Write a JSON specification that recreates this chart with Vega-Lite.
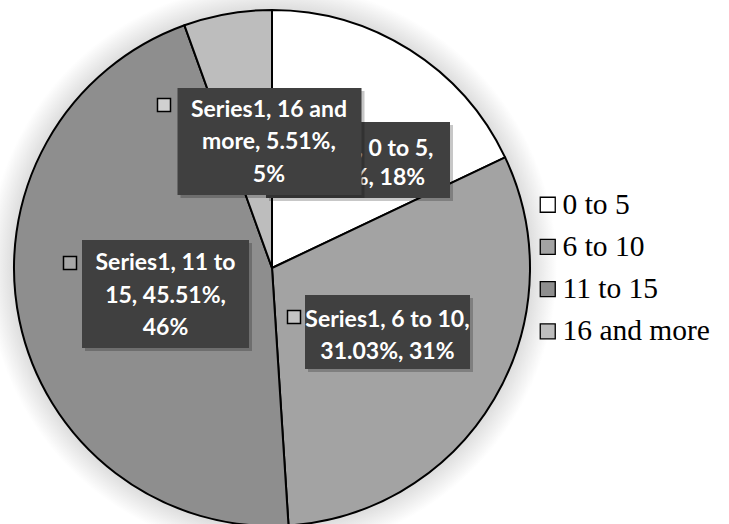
{
  "$schema": "https://vega.github.io/schema/vega-lite/v6.json",
  "width": 544,
  "height": 524,
  "autosize": "none",
  "padding": {"left": 0, "top": 0, "right": 185, "bottom": 0},
  "background": "#ffffff",
  "config": {"view": {"stroke": null}},
  "data": {"values": [
    {"idx": 1, "cat": "0 to 5", "value": 17.95},
    {"idx": 2, "cat": "6 to 10", "value": 31.03},
    {"idx": 3, "cat": "11 to 15", "value": 45.51},
    {"idx": 4, "cat": "16 and more", "value": 5.51}
  ]},
  "layer": [
    {
      "data": {"values": [{"k": 1}]},
      "mark": {"type": "arc", "theta": 0, "theta2": 6.2832, "radius": 285, "yOffset": 6,
        "fill": {"gradient": "radial", "x1": 0.5, "y1": 0.5, "x2": 0.5, "y2": 0.5, "r1": 0.43, "r2": 0.5,
          "stops": [{"offset": 0, "color": "#cccccc"}, {"offset": 1, "color": "#ffffff"}]}},
      "encoding": {}
    },
    {
      "mark": {"type": "arc", "radius": 258, "yOffset": 6, "stroke": "#000000", "strokeWidth": 2, "strokeJoin": "round"},
      "encoding": {
        "theta": {"field": "value", "type": "quantitative", "stack": true},
        "order": {"field": "idx", "type": "quantitative"},
        "fill": {"field": "cat", "type": "nominal",
          "scale": {"domain": ["0 to 5", "6 to 10", "11 to 15", "16 and more"], "range": ["#ffffff", "#a3a3a3", "#8e8e8e", "#bdbdbd"]},
          "legend": {"title": null, "orient": "none", "legendX": 533, "legendY": 190, "padding": 0,
            "symbolType": "square", "symbolSize": 225, "symbolStrokeColor": "#000000", "symbolStrokeWidth": 1.3,
            "labelFont": "Liberation Serif", "labelFontSize": 29.5, "labelColor": "#000000", "labelOffset": 0, "rowPadding": 11.2, "labelLimit": 300}}
      }
    },
    {
      "transform": [{"filter": "datum.cat === '0 to 5'"}],
      "mark": {"type": "point", "shape": "M-1,-0.413H1V0.413H-1Z", "size": 33856, "filled": true, "fill": "#000000", "strokeWidth": 0, "opacity": 0.22, "xOffset": 89, "yOffset": -99},
      "encoding": {}
    },
    {
      "transform": [{"filter": "datum.cat === '0 to 5'"}],
      "mark": {"type": "point", "shape": "M-1,-0.413H1V0.413H-1Z", "size": 33856, "filled": true, "fill": "#404040", "strokeWidth": 0, "opacity": 1, "xOffset": 86, "yOffset": -102},
      "encoding": {}
    },
    {
      "mark": {"type": "text", "radius": 128, "dx": 17.6, "dy": -5, "font": "Lato", "fontSize": 23, "fontWeight": "bold", "fill": "#ffffff", "align": "center", "baseline": "middle", "lineHeight": 29},
      "encoding": {"theta": {"field": "value", "type": "quantitative", "stack": true}, "order": {"field": "idx", "type": "quantitative"}, "detail": {"field": "cat"},
        "text": {"condition": {"test": "datum.cat === '0 to 5'", "value": ["Series1, 0 to 5,", "17.95%, 18%"]}, "value": ""}}
    },
    {
      "transform": [{"filter": "datum.cat === '6 to 10'"}],
      "mark": {"type": "point", "shape": "M-1,-0.4485H1V0.4485H-1Z", "size": 27225, "filled": true, "fill": "#000000", "strokeWidth": 0, "opacity": 0.22, "xOffset": 118.5, "yOffset": 73},
      "encoding": {}
    },
    {
      "transform": [{"filter": "datum.cat === '6 to 10'"}],
      "mark": {"type": "point", "shape": "M-1,-0.4485H1V0.4485H-1Z", "size": 27225, "filled": true, "fill": "#404040", "strokeWidth": 0, "opacity": 1, "xOffset": 115.5, "yOffset": 70},
      "encoding": {}
    },
    {
      "transform": [{"filter": "datum.cat === '6 to 10'"}],
      "mark": {"type": "point", "shape": "square", "size": 169, "filled": true, "fill": "#c4c4c4", "stroke": "#000000", "strokeWidth": 1.5, "opacity": 1, "xOffset": 22, "yOffset": 55},
      "encoding": {}
    },
    {
      "mark": {"type": "text", "radius": 130, "dx": 3.4, "dy": -8, "font": "Lato", "fontSize": 23, "fontWeight": "bold", "fill": "#ffffff", "align": "center", "baseline": "middle", "lineHeight": 32},
      "encoding": {"theta": {"field": "value", "type": "quantitative", "stack": true}, "order": {"field": "idx", "type": "quantitative"}, "detail": {"field": "cat"},
        "text": {"condition": {"test": "datum.cat === '6 to 10'", "value": ["Series1, 6 to 10,", "31.03%, 31%"]}, "value": ""}}
    },
    {
      "transform": [{"filter": "datum.cat === '11 to 15'"}],
      "mark": {"type": "point", "shape": "M-1,-0.6467H1V0.6467H-1Z", "size": 27889, "filled": true, "fill": "#000000", "strokeWidth": 0, "opacity": 0.22, "xOffset": -103.5, "yOffset": 35},
      "encoding": {}
    },
    {
      "transform": [{"filter": "datum.cat === '11 to 15'"}],
      "mark": {"type": "point", "shape": "M-1,-0.6467H1V0.6467H-1Z", "size": 27889, "filled": true, "fill": "#404040", "strokeWidth": 0, "opacity": 1, "xOffset": -106.5, "yOffset": 32},
      "encoding": {}
    },
    {
      "transform": [{"filter": "datum.cat === '11 to 15'"}],
      "mark": {"type": "point", "shape": "square", "size": 169, "filled": true, "fill": "#a8a8a8", "stroke": "#000000", "strokeWidth": 1.5, "opacity": 1, "xOffset": -202, "yOffset": 1},
      "encoding": {}
    },
    {
      "mark": {"type": "text", "radius": 110, "dx": 1.2, "dy": -21.4, "font": "Lato", "fontSize": 23, "fontWeight": "bold", "fill": "#ffffff", "align": "center", "baseline": "middle", "lineHeight": 32.5},
      "encoding": {"theta": {"field": "value", "type": "quantitative", "stack": true}, "order": {"field": "idx", "type": "quantitative"}, "detail": {"field": "cat"},
        "text": {"condition": {"test": "datum.cat === '11 to 15'", "value": ["Series1, 11 to", "15, 45.51%,", "46%"]}, "value": ""}}
    },
    {
      "transform": [{"filter": "datum.cat === '16 and more'"}],
      "mark": {"type": "point", "shape": "M-1,-0.5815H1V0.5815H-1Z", "size": 33856, "filled": true, "fill": "#000000", "strokeWidth": 0, "opacity": 0.22, "xOffset": 0.5, "yOffset": -117.5},
      "encoding": {}
    },
    {
      "transform": [{"filter": "datum.cat === '16 and more'"}],
      "mark": {"type": "point", "shape": "M-1,-0.5815H1V0.5815H-1Z", "size": 33856, "filled": true, "fill": "#404040", "strokeWidth": 0, "opacity": 1, "xOffset": -2.5, "yOffset": -120.5},
      "encoding": {}
    },
    {
      "transform": [{"filter": "datum.cat === '16 and more'"}],
      "mark": {"type": "point", "shape": "square", "size": 169, "filled": true, "fill": "#d0d0d0", "stroke": "#000000", "strokeWidth": 1.5, "opacity": 1, "xOffset": -108, "yOffset": -157},
      "encoding": {}
    },
    {
      "mark": {"type": "text", "radius": 128, "dx": 19, "dy": -26, "font": "Lato", "fontSize": 23, "fontWeight": "bold", "fill": "#ffffff", "align": "center", "baseline": "middle", "lineHeight": 32.5},
      "encoding": {"theta": {"field": "value", "type": "quantitative", "stack": true}, "order": {"field": "idx", "type": "quantitative"}, "detail": {"field": "cat"},
        "text": {"condition": {"test": "datum.cat === '16 and more'", "value": ["Series1, 16 and", "more, 5.51%,", "5%"]}, "value": ""}}
    }
  ]
}
